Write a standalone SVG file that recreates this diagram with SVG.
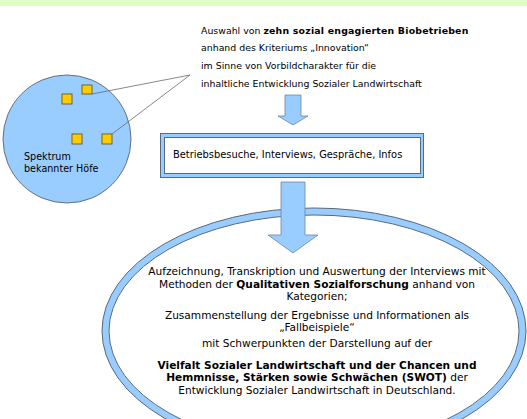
<svg xmlns="http://www.w3.org/2000/svg" width="527" height="419" viewBox="0 0 527 419">
<style>
text{font-family:"DejaVu Sans","Liberation Sans",sans-serif;fill:#000}
.b{font-weight:bold}
.frame{fill:#99ccff;stroke:#5a6a7c;stroke-width:1}
.inner{fill:#fff;stroke:#5a6a7c;stroke-width:1}
.sq{fill:#ffcc00;stroke:#5a4a10;stroke-width:0.8}
.ln{stroke:#6a6a6a;stroke-width:0.8;fill:none}
.arr{fill:#99ccff;stroke:#6f86a0;stroke-width:0.8}
.t8{font-size:9.4px}
.t9{font-size:9.9px}
.t10{font-size:9.6px}
.t11{font-size:10.6px}
</style>
<rect x="0" y="0" width="527" height="6" fill="#dfffc6"/>
<g id="spektrum">
<circle cx="67" cy="139" r="64" fill="#99ccff" stroke="#5a6470" stroke-width="0.9"/>
<rect class="sq" x="82" y="85" width="10" height="9"/>
<rect class="sq" x="62" y="94" width="10" height="10"/>
<rect class="sq" x="72" y="134" width="10" height="10"/>
<rect class="sq" x="102" y="134" width="10" height="10"/>
<text class="t10" x="24" y="160">Spektrum</text>
<text class="t10" x="24" y="172">bekannter Höfe</text>
</g>
<g id="auswahl" class="t8">
<text x="201" y="34">Auswahl von <tspan class="b" letter-spacing="0.2">zehn sozial engagierten Biobetrieben</tspan></text>
<text x="201" y="51">anhand des Kriteriums „Innovation“</text>
<text x="201" y="69">im Sinne von Vorbildcharakter für die</text>
<text x="201" y="87">inhaltliche Entwicklung Sozialer Landwirtschaft</text>
</g>
<g id="besuche">
<rect class="frame" x="160.5" y="133.5" width="263" height="44"/>
<rect class="inner" x="164.5" y="137.5" width="256" height="36"/>
<text class="t9" x="173" y="157.5">Betriebsbesuche, Interviews, Gespräche, Infos</text>
</g>
<g id="auswertung">
<ellipse class="frame" cx="314" cy="331" rx="212" ry="123"/>
<ellipse class="inner" cx="314" cy="331" rx="205" ry="116"/>
<g class="t11" text-anchor="middle">
<text x="317" y="275">Aufzeichnung, Transkription und Auswertung der Interviews mit</text>
<text x="317" y="287.5">Methoden der <tspan class="b">Qualitativen Sozialforschung</tspan> anhand von</text>
<text x="317" y="300">Kategorien;</text>
<text x="317" y="318.5">Zusammenstellung der Ergebnisse und Informationen als</text>
<text x="317" y="331">„Fallbeispiele“</text>
<text x="317" y="347">mit Schwerpunkten der Darstellung auf der</text>
<text x="317" y="368.5" class="b">Vielfalt Sozialer Landwirtschaft und der Chancen und</text>
<text x="317" y="381"><tspan class="b">Hemmnisse, Stärken sowie Schwächen (SWOT)</tspan> der</text>
<text x="317" y="393.5">Entwicklung Sozialer Landwirtschaft in Deutschland.</text>
</g>
</g>
<g id="connectors">
<line class="ln" x1="92" y1="94" x2="190" y2="75"/>
<line class="ln" x1="112" y1="134" x2="190" y2="75"/>
<polygon class="arr" points="285,95 301,95 301,116 308,116 293,125 278,116 285,116"/>
<polygon class="arr" points="281,182 305,182 305,235 318,235 293,253 268,235 281,235"/>
</g>
</svg>
